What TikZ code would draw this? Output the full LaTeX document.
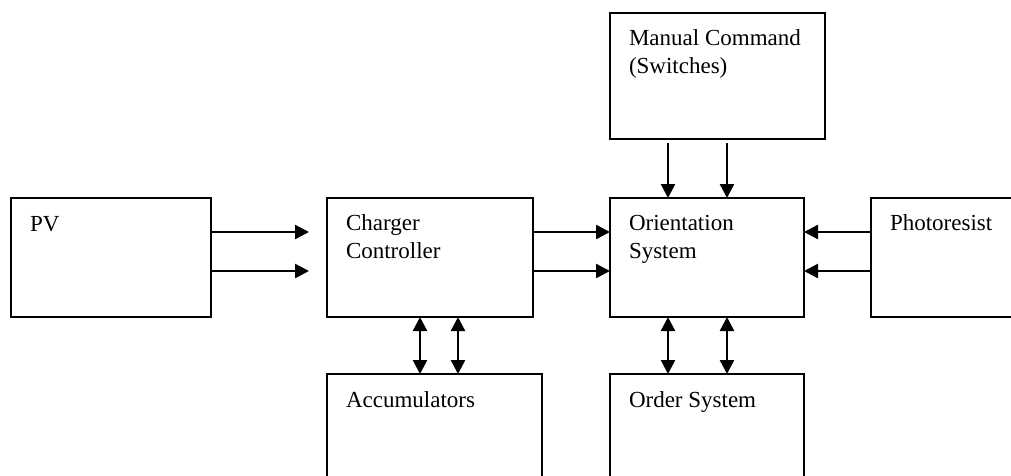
\documentclass[tikz,border=0pt]{standalone}
\usepackage{fontspec}
\setmainfont{Liberation Serif}
\usetikzlibrary{arrows.meta,calc}
\tikzset{
  block/.style={draw, line width=2pt, inner sep=0pt, outer sep=0pt,
                anchor=north west, fill=white},
  lbl/.style={inner sep=0pt, outer sep=0pt, anchor=base west, align=left,
              font=\fontsize{23}{28}\selectfont},
  tip/.tip={Triangle[length=14pt,width=14pt]},
  flow/.style={line width=2.4pt, -tip},
  both/.style={line width=2.4pt, tip-tip},
}
\begin{document}
\begin{tikzpicture}[x=1pt,y=-1pt]
  \useasboundingbox (0,0) rectangle (1011,475);
  \clip (0,0) rectangle (1011,475);

  % blocks
  \node[block, minimum width=200pt, minimum height=119pt] (pv)  at (11,198)  {};
  \node[block, minimum width=206pt, minimum height=119pt] (cc)  at (327,198) {};
  \node[block, minimum width=194pt, minimum height=119pt] (os)  at (610,198) {};
  \node[block, minimum width=200pt, minimum height=119pt] (pr)  at (871,198) {};
  \node[block, minimum width=215pt, minimum height=126pt] (mc)  at (610,13)  {};
  \node[block, minimum width=215pt, minimum height=150pt] (acc) at (327,374) {};
  \node[block, minimum width=194pt, minimum height=150pt] (ord) at (610,374) {};

  % block texts (base anchor sits on the last line of a two-line label)
  \node[lbl] (pvt)  at ($(pv.north west)+(19,33)$)  {PV};
  \node[lbl] (cct)  at ($(cc.north west)+(19,60)$)  {Charger\\Controller};
  \node[lbl] (ost)  at ($(os.north west)+(19,60)$)  {Orientation\\System};
  \node[lbl] (prt)  at ($(pr.north west)+(19,32)$)  {Photoresist};
  \node[lbl] (mct)  at ($(mc.north west)+(19,60)$)  {Manual Command\\(Switches)};
  \node[lbl] (acct) at ($(acc.north west)+(19,33)$) {Accumulators};
  \node[lbl] (ordt) at ($(ord.north west)+(19,33)$) {Order System};

  % PV -> charger controller
  \draw[flow] ($(pv.north east)+(0,34)$) -- ($(cc.north west)+(-18,34)$);
  \draw[flow] ($(pv.north east)+(0,73)$) -- ($(cc.north west)+(-18,73)$);

  % charger controller -> orientation system
  \draw[flow] ($(cc.north east)+(0,34)$) -- ($(os.north west)+(0,34)$);
  \draw[flow] ($(cc.north east)+(0,73)$) -- ($(os.north west)+(0,73)$);

  % photoresist -> orientation system
  \draw[flow] ($(pr.north west)+(0,34)$) -- ($(os.north east)+(0,34)$);
  \draw[flow] ($(pr.north west)+(0,73)$) -- ($(os.north east)+(0,73)$);

  % manual command -> orientation system
  \draw[flow] ($(mc.south west)+(58,4)$)  -- ($(os.north west)+(58,0)$);
  \draw[flow] ($(mc.south west)+(117,4)$) -- ($(os.north west)+(117,0)$);

  % charger controller <-> accumulators
  \draw[both] ($(cc.south west)+(93,0)$)  -- ($(acc.north west)+(93,0)$);
  \draw[both] ($(cc.south west)+(131,0)$) -- ($(acc.north west)+(131,0)$);

  % orientation system <-> order system
  \draw[both] ($(os.south west)+(58,0)$)  -- ($(ord.north west)+(58,0)$);
  \draw[both] ($(os.south west)+(117,0)$) -- ($(ord.north west)+(117,0)$);
\end{tikzpicture}
\end{document}
